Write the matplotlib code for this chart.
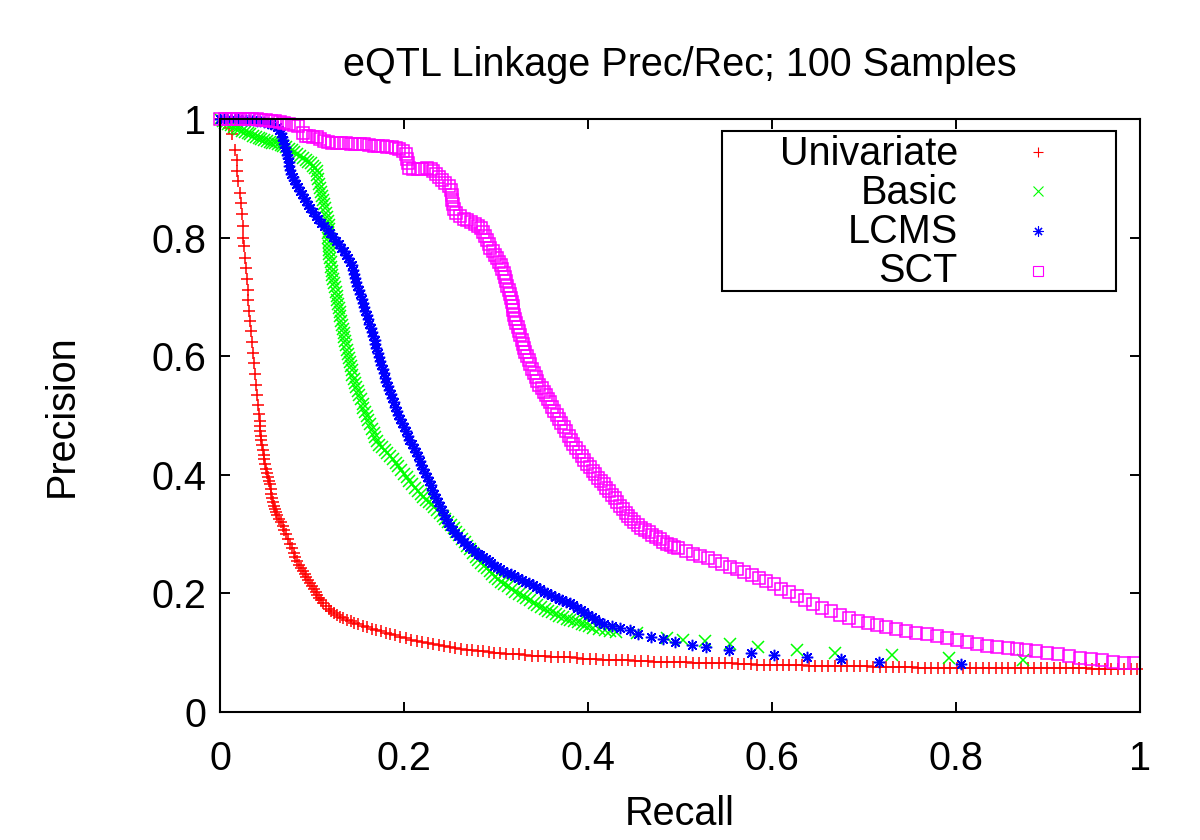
import matplotlib
matplotlib.use('Agg')
import matplotlib.pyplot as plt
from matplotlib.patches import Rectangle

plt.rcParams['font.family'] = ['Liberation Sans', 'DejaVu Sans']

# 数据: 从原图读取的 (recall, precision) 点
univariate_pts = [
    (0.000, 1.000), (0.005, 0.995), (0.010, 0.985), (0.013, 0.975), (0.016, 0.948),
    (0.018, 0.930), (0.019, 0.912), (0.020, 0.895), (0.022, 0.875), (0.023, 0.858),
    (0.024, 0.840), (0.025, 0.820), (0.025, 0.800), (0.026, 0.785), (0.027, 0.766),
    (0.028, 0.748), (0.029, 0.730), (0.030, 0.712), (0.031, 0.694), (0.032, 0.676),
    (0.033, 0.660), (0.034, 0.642), (0.035, 0.624), (0.036, 0.606), (0.037, 0.588),
    (0.038, 0.570), (0.039, 0.552), (0.040, 0.535), (0.041, 0.518), (0.042, 0.502),
    (0.043, 0.490), (0.043, 0.482),
    (0.044, 0.474), (0.045, 0.466), (0.045, 0.458), (0.046, 0.450), (0.047, 0.442),
    (0.048, 0.434), (0.048, 0.426), (0.049, 0.418), (0.050, 0.410), (0.051, 0.403),
    (0.052, 0.396), (0.053, 0.390), (0.054, 0.384), (0.055, 0.376), (0.056, 0.368),
    (0.057, 0.361), (0.058, 0.354), (0.059, 0.348), (0.060, 0.342), (0.061, 0.337),
    (0.062, 0.332), (0.064, 0.326), (0.066, 0.320), (0.068, 0.314), (0.070, 0.307),
    (0.072, 0.300), (0.074, 0.292), (0.076, 0.284), (0.078, 0.276), (0.080, 0.268),
    (0.082, 0.261), (0.084, 0.254), (0.086, 0.248), (0.088, 0.243), (0.090, 0.238),
    (0.092, 0.233), (0.094, 0.228), (0.096, 0.223), (0.098, 0.218), (0.100, 0.213),
    (0.102, 0.208), (0.104, 0.203), (0.106, 0.198), (0.108, 0.193), (0.110, 0.188),
    (0.112, 0.184), (0.115, 0.179), (0.118, 0.174), (0.121, 0.170), (0.124, 0.167),
    (0.127, 0.164), (0.130, 0.161), (0.134, 0.158), (0.138, 0.155), (0.142, 0.153),
    (0.146, 0.150), (0.150, 0.148), (0.155, 0.145), (0.160, 0.143), (0.165, 0.140),
    (0.170, 0.138), (0.175, 0.136), (0.180, 0.134), (0.185, 0.132), (0.190, 0.130),
    (0.196, 0.127), (0.202, 0.125), (0.208, 0.122), (0.214, 0.120), (0.220, 0.118),
    (0.226, 0.116), (0.232, 0.115), (0.238, 0.113), (0.244, 0.111), (0.250, 0.110),
    (0.256, 0.108), (0.262, 0.107), (0.268, 0.105), (0.274, 0.104), (0.280, 0.103),
    (0.286, 0.102), (0.292, 0.101), (0.298, 0.100), (0.304, 0.099), (0.311, 0.098),
    (0.318, 0.097), (0.325, 0.097), (0.332, 0.096), (0.339, 0.095), (0.346, 0.095),
    (0.353, 0.094), (0.360, 0.093), (0.367, 0.093), (0.374, 0.092), (0.381, 0.092),
    (0.388, 0.091), (0.395, 0.090), (0.402, 0.090), (0.409, 0.089), (0.416, 0.088),
    (0.423, 0.088), (0.430, 0.088), (0.437, 0.087), (0.444, 0.087), (0.451, 0.086),
    (0.458, 0.086), (0.465, 0.086), (0.472, 0.085), (0.479, 0.085), (0.486, 0.085),
    (0.493, 0.084), (0.500, 0.084), (0.507, 0.084), (0.514, 0.083), (0.521, 0.083),
    (0.528, 0.083), (0.535, 0.082), (0.542, 0.082), (0.549, 0.082), (0.556, 0.082),
    (0.563, 0.081), (0.570, 0.081), (0.577, 0.081), (0.584, 0.080), (0.591, 0.080),
    (0.598, 0.080), (0.605, 0.080), (0.612, 0.079), (0.619, 0.079), (0.626, 0.079),
    (0.633, 0.079), (0.640, 0.078), (0.647, 0.078), (0.654, 0.078), (0.661, 0.078),
    (0.668, 0.078), (0.675, 0.077), (0.682, 0.077), (0.689, 0.077), (0.696, 0.077),
    (0.703, 0.077), (0.710, 0.076), (0.717, 0.076), (0.724, 0.076), (0.731, 0.076),
    (0.738, 0.076), (0.745, 0.076), (0.752, 0.076), (0.759, 0.075), (0.766, 0.075),
    (0.773, 0.075), (0.780, 0.075), (0.787, 0.075), (0.794, 0.075), (0.801, 0.075),
    (0.808, 0.075), (0.815, 0.075), (0.822, 0.075), (0.829, 0.075), (0.836, 0.075),
    (0.843, 0.075), (0.850, 0.075), (0.857, 0.074), (0.864, 0.074), (0.871, 0.074),
    (0.878, 0.074), (0.885, 0.074), (0.892, 0.074), (0.899, 0.074), (0.906, 0.074),
    (0.913, 0.074), (0.920, 0.074), (0.927, 0.074), (0.934, 0.074), (0.941, 0.074),
    (0.948, 0.073), (0.955, 0.073), (0.962, 0.073), (0.969, 0.073), (0.976, 0.073),
    (0.983, 0.073), (0.990, 0.073), (0.997, 0.073),
]

basic_pts = [
    (0.000, 1.000), (0.003, 0.997), (0.006, 0.994), (0.009, 0.991), (0.012, 0.989),
    (0.015, 0.987), (0.018, 0.985), (0.021, 0.983), (0.024, 0.980), (0.027, 0.978),
    (0.030, 0.976), (0.033, 0.974), (0.036, 0.971), (0.039, 0.969), (0.042, 0.968),
    (0.045, 0.966), (0.048, 0.964), (0.051, 0.963), (0.054, 0.961), (0.057, 0.960),
    (0.060, 0.959), (0.063, 0.957), (0.066, 0.956), (0.069, 0.955), (0.072, 0.953),
    (0.075, 0.950), (0.078, 0.947), (0.081, 0.944), (0.084, 0.941), (0.087, 0.937),
    (0.090, 0.934), (0.093, 0.931), (0.096, 0.928), (0.099, 0.925), (0.101, 0.921),
    (0.103, 0.917), (0.105, 0.912), (0.106, 0.905), (0.107, 0.898), (0.108, 0.891),
    (0.109, 0.884), (0.110, 0.877), (0.111, 0.870), (0.112, 0.863), (0.113, 0.856),
    (0.114, 0.849), (0.115, 0.842), (0.116, 0.835), (0.117, 0.828), (0.118, 0.821),
    (0.118, 0.814), (0.117, 0.807), (0.117, 0.800), (0.118, 0.793), (0.118, 0.786),
    (0.119, 0.779), (0.119, 0.772), (0.120, 0.765), (0.121, 0.758), (0.121, 0.751),
    (0.122, 0.744), (0.122, 0.737), (0.123, 0.730), (0.124, 0.723), (0.125, 0.716),
    (0.126, 0.709), (0.127, 0.702), (0.127, 0.695), (0.128, 0.688), (0.129, 0.681),
    (0.130, 0.674), (0.131, 0.667), (0.132, 0.660), (0.133, 0.653), (0.134, 0.646),
    (0.135, 0.639), (0.135, 0.632), (0.136, 0.625), (0.137, 0.618), (0.138, 0.611),
    (0.139, 0.604), (0.140, 0.597), (0.141, 0.590), (0.142, 0.583), (0.143, 0.576),
    (0.144, 0.569), (0.146, 0.562), (0.147, 0.555), (0.148, 0.548), (0.150, 0.541),
    (0.151, 0.534), (0.153, 0.527), (0.155, 0.520), (0.156, 0.513), (0.158, 0.506),
    (0.160, 0.499), (0.161, 0.492), (0.163, 0.485), (0.165, 0.478), (0.167, 0.471),
    (0.169, 0.464), (0.171, 0.457), (0.173, 0.451), (0.176, 0.446), (0.179, 0.441),
    (0.182, 0.436), (0.185, 0.431), (0.188, 0.426), (0.191, 0.420), (0.194, 0.414),
    (0.197, 0.408), (0.200, 0.402), (0.203, 0.396), (0.206, 0.390), (0.209, 0.384),
    (0.212, 0.378), (0.215, 0.373), (0.218, 0.368), (0.221, 0.363), (0.224, 0.358),
    (0.227, 0.354), (0.230, 0.350), (0.233, 0.345), (0.236, 0.340), (0.239, 0.335),
    (0.242, 0.330), (0.245, 0.325), (0.248, 0.320), (0.251, 0.315), (0.254, 0.310),
    (0.257, 0.304), (0.260, 0.298), (0.263, 0.292), (0.266, 0.286), (0.269, 0.280),
    (0.272, 0.274), (0.275, 0.268), (0.278, 0.262), (0.281, 0.257), (0.284, 0.252),
    (0.287, 0.247), (0.290, 0.242), (0.293, 0.237), (0.296, 0.232), (0.299, 0.228),
    (0.302, 0.224), (0.305, 0.220), (0.309, 0.216), (0.313, 0.212), (0.317, 0.207),
    (0.321, 0.203), (0.325, 0.199), (0.329, 0.196), (0.333, 0.192), (0.337, 0.188),
    (0.341, 0.184), (0.345, 0.180), (0.349, 0.177), (0.353, 0.174), (0.357, 0.171),
    (0.361, 0.168), (0.365, 0.165), (0.369, 0.162), (0.373, 0.160), (0.377, 0.157),
    (0.381, 0.155), (0.385, 0.153), (0.389, 0.151), (0.393, 0.149), (0.397, 0.147),
    (0.401, 0.145), (0.406, 0.142), (0.412, 0.140), (0.418, 0.138), (0.424, 0.136),
    (0.431, 0.135), (0.453, 0.134), (0.486, 0.125), (0.503, 0.121), (0.527, 0.120),
    (0.554, 0.114), (0.585, 0.110), (0.627, 0.105), (0.669, 0.100), (0.730, 0.096),
    (0.792, 0.091), (0.873, 0.088),
]

lcms_pts = [
    (0.000, 1.000), (0.004, 1.000), (0.008, 1.000), (0.012, 1.000), (0.016, 1.000),
    (0.020, 1.000), (0.024, 0.999), (0.028, 0.999), (0.032, 0.998), (0.036, 0.998),
    (0.040, 0.997), (0.044, 0.996), (0.048, 0.995), (0.052, 0.993), (0.056, 0.991),
    (0.059, 0.989), (0.062, 0.986), (0.064, 0.981), (0.066, 0.976), (0.067, 0.970),
    (0.069, 0.964), (0.070, 0.958), (0.071, 0.952), (0.072, 0.946), (0.073, 0.940),
    (0.074, 0.934), (0.075, 0.927), (0.075, 0.920), (0.076, 0.914), (0.077, 0.908),
    (0.079, 0.902), (0.081, 0.897), (0.083, 0.891), (0.085, 0.885), (0.087, 0.879),
    (0.089, 0.873), (0.091, 0.867), (0.093, 0.861), (0.096, 0.855), (0.098, 0.849),
    (0.101, 0.843), (0.104, 0.837), (0.107, 0.831), (0.110, 0.825), (0.113, 0.819),
    (0.117, 0.813), (0.120, 0.807), (0.123, 0.801), (0.126, 0.795), (0.129, 0.789),
    (0.132, 0.783), (0.135, 0.777), (0.137, 0.771), (0.139, 0.765), (0.141, 0.759),
    (0.143, 0.753), (0.145, 0.746), (0.146, 0.739), (0.147, 0.732), (0.148, 0.725),
    (0.149, 0.718), (0.151, 0.711), (0.152, 0.704), (0.154, 0.697), (0.155, 0.690),
    (0.157, 0.683), (0.158, 0.676), (0.160, 0.669), (0.161, 0.662), (0.162, 0.655),
    (0.164, 0.648), (0.165, 0.641), (0.166, 0.634), (0.168, 0.627), (0.169, 0.620),
    (0.170, 0.613), (0.172, 0.606), (0.173, 0.599), (0.174, 0.592), (0.175, 0.585),
    (0.177, 0.578), (0.178, 0.571), (0.179, 0.564), (0.181, 0.557), (0.183, 0.550),
    (0.184, 0.543), (0.186, 0.536), (0.187, 0.529), (0.189, 0.522), (0.190, 0.515),
    (0.192, 0.508), (0.194, 0.501), (0.196, 0.494), (0.198, 0.487), (0.200, 0.480),
    (0.202, 0.473), (0.204, 0.466), (0.206, 0.459), (0.209, 0.452), (0.211, 0.445),
    (0.213, 0.438), (0.215, 0.431), (0.217, 0.424), (0.219, 0.417), (0.221, 0.410),
    (0.223, 0.403), (0.225, 0.396), (0.227, 0.389), (0.229, 0.382), (0.231, 0.375),
    (0.233, 0.368), (0.235, 0.361), (0.237, 0.354), (0.239, 0.347), (0.241, 0.340),
    (0.243, 0.333), (0.246, 0.326), (0.248, 0.319), (0.250, 0.313), (0.253, 0.307),
    (0.256, 0.301), (0.259, 0.296), (0.262, 0.291), (0.265, 0.286), (0.268, 0.282),
    (0.271, 0.278), (0.274, 0.274), (0.277, 0.270), (0.280, 0.267), (0.283, 0.264),
    (0.286, 0.261), (0.289, 0.258), (0.292, 0.254), (0.295, 0.251), (0.298, 0.247),
    (0.301, 0.244), (0.304, 0.241), (0.308, 0.238), (0.312, 0.235), (0.316, 0.232),
    (0.320, 0.229), (0.324, 0.226), (0.328, 0.223), (0.332, 0.220), (0.336, 0.217),
    (0.340, 0.214), (0.344, 0.210), (0.348, 0.207), (0.352, 0.203), (0.356, 0.200),
    (0.360, 0.197), (0.364, 0.194), (0.368, 0.191), (0.372, 0.189), (0.376, 0.186),
    (0.380, 0.183), (0.384, 0.180), (0.388, 0.176), (0.392, 0.172), (0.396, 0.168),
    (0.400, 0.164), (0.404, 0.160), (0.408, 0.156), (0.412, 0.152), (0.417, 0.148),
    (0.426, 0.145), (0.435, 0.142), (0.446, 0.138), (0.454, 0.131), (0.469, 0.127),
    (0.482, 0.123), (0.495, 0.118), (0.513, 0.113), (0.528, 0.110), (0.553, 0.105),
    (0.577, 0.100), (0.602, 0.096), (0.638, 0.093), (0.675, 0.089), (0.716, 0.084),
    (0.805, 0.081),
]

sct_pts = [
    (0.000, 1.000), (0.005, 1.000), (0.010, 1.000), (0.015, 1.000), (0.020, 1.000),
    (0.025, 1.000), (0.030, 1.000), (0.035, 1.000), (0.040, 1.000), (0.045, 0.999),
    (0.050, 0.998), (0.055, 0.997), (0.060, 0.996), (0.065, 0.995), (0.070, 0.994),
    (0.075, 0.992), (0.080, 0.990), (0.085, 0.988), (0.090, 0.977), (0.093, 0.972),
    (0.097, 0.971), (0.101, 0.970), (0.105, 0.969), (0.109, 0.967), (0.113, 0.963),
    (0.117, 0.961), (0.122, 0.960), (0.127, 0.960), (0.132, 0.959), (0.137, 0.959),
    (0.142, 0.958), (0.147, 0.958), (0.152, 0.957), (0.157, 0.957), (0.162, 0.956),
    (0.167, 0.955), (0.172, 0.954), (0.177, 0.954), (0.182, 0.953), (0.187, 0.952),
    (0.191, 0.951), (0.195, 0.949), (0.199, 0.946), (0.202, 0.941), (0.203, 0.933),
    (0.204, 0.925), (0.206, 0.918), (0.210, 0.915), (0.215, 0.915), (0.220, 0.916),
    (0.225, 0.917), (0.229, 0.916), (0.232, 0.912), (0.235, 0.907), (0.238, 0.902),
    (0.241, 0.897), (0.245, 0.892), (0.249, 0.887), (0.251, 0.880), (0.252, 0.872),
    (0.252, 0.864), (0.253, 0.856), (0.254, 0.848), (0.257, 0.841), (0.261, 0.836),
    (0.265, 0.832), (0.269, 0.829), (0.273, 0.826), (0.277, 0.823), (0.281, 0.820),
    (0.284, 0.816), (0.286, 0.810), (0.288, 0.803), (0.290, 0.796), (0.292, 0.789),
    (0.294, 0.783), (0.297, 0.777), (0.299, 0.771), (0.301, 0.765), (0.303, 0.759),
    (0.305, 0.753), (0.307, 0.747), (0.309, 0.740), (0.310, 0.733), (0.311, 0.726),
    (0.312, 0.719), (0.314, 0.712), (0.315, 0.705), (0.316, 0.698), (0.317, 0.691),
    (0.318, 0.684), (0.319, 0.677), (0.320, 0.670), (0.321, 0.663), (0.322, 0.656),
    (0.324, 0.649), (0.325, 0.642), (0.326, 0.635), (0.328, 0.628), (0.329, 0.621),
    (0.331, 0.614), (0.332, 0.607), (0.334, 0.600), (0.336, 0.593), (0.337, 0.586),
    (0.339, 0.579), (0.341, 0.572), (0.343, 0.565), (0.345, 0.558), (0.347, 0.552),
    (0.350, 0.546), (0.352, 0.540), (0.354, 0.534), (0.357, 0.528), (0.359, 0.522),
    (0.361, 0.515), (0.363, 0.508), (0.366, 0.501), (0.368, 0.494), (0.371, 0.487),
    (0.374, 0.480), (0.376, 0.473), (0.379, 0.466), (0.382, 0.459), (0.384, 0.452),
    (0.387, 0.445), (0.390, 0.438), (0.393, 0.431), (0.396, 0.425), (0.399, 0.419),
    (0.402, 0.413), (0.405, 0.407), (0.408, 0.401), (0.411, 0.395), (0.414, 0.389),
    (0.417, 0.384), (0.420, 0.378), (0.423, 0.372), (0.426, 0.366), (0.429, 0.360),
    (0.432, 0.354), (0.435, 0.348), (0.438, 0.342), (0.441, 0.336), (0.444, 0.330),
    (0.447, 0.325), (0.450, 0.320), (0.454, 0.315), (0.458, 0.311), (0.462, 0.307),
    (0.466, 0.303), (0.470, 0.299), (0.474, 0.295), (0.478, 0.291), (0.482, 0.287),
    (0.486, 0.284), (0.490, 0.281), (0.494, 0.278), (0.498, 0.276), (0.506, 0.271),
    (0.514, 0.267), (0.522, 0.263), (0.530, 0.259), (0.538, 0.255), (0.546, 0.250),
    (0.554, 0.245), (0.562, 0.241), (0.570, 0.236), (0.578, 0.231), (0.586, 0.226),
    (0.594, 0.221), (0.602, 0.215), (0.610, 0.208), (0.618, 0.202), (0.627, 0.195),
    (0.636, 0.188), (0.645, 0.182), (0.654, 0.176), (0.664, 0.170), (0.674, 0.164),
    (0.684, 0.159), (0.694, 0.154), (0.704, 0.150), (0.714, 0.147), (0.724, 0.144),
    (0.735, 0.140), (0.746, 0.137), (0.757, 0.134), (0.768, 0.131), (0.779, 0.128),
    (0.790, 0.125), (0.801, 0.121), (0.812, 0.118), (0.823, 0.114), (0.834, 0.111),
    (0.845, 0.110), (0.856, 0.108), (0.866, 0.107), (0.876, 0.105), (0.887, 0.102),
    (0.899, 0.100), (0.911, 0.097), (0.923, 0.094), (0.935, 0.091), (0.947, 0.089),
    (0.959, 0.087), (0.971, 0.085), (0.983, 0.083), (0.993, 0.082),
]

labels = ['Univariate', 'Basic', 'LCMS', 'SCT']
series = [univariate_pts, basic_pts, lcms_pts, sct_pts]
colors = ['#ff0000', '#00ff00', '#0000ff', '#ff00ff']
markers = ['+', 'x', (8, 2, 0), 's']

tick_vals = [0, 0.2, 0.4, 0.6, 0.8, 1]
tick_labels = ['0', '0.2', '0.4', '0.6', '0.8', '1']

FS = 28.5
MS = 8.2
MEW = 1.1

fig = plt.figure(figsize=(12, 8.4), dpi=100)
ax = fig.add_axes([0.1833, 0.1524, 0.7667, 0.7060])

for pts, c, m in zip(series, colors, markers):
    x = [p[0] for p in pts]
    y = [p[1] for p in pts]
    ax.plot(x, y, ls='none', marker=m, ms=MS, mew=MEW, mfc='none', mec=c,
            clip_on=False)

ax.set_xlim(0, 1)
ax.set_ylim(0, 1)
ax.set_xticks(tick_vals)
ax.set_xticklabels(tick_labels)
ax.set_yticks(tick_vals)
ax.set_yticklabels(tick_labels)
ax.tick_params(direction='in', length=7, width=1.4, top=True, right=True,
               labelsize=FS)
ax.tick_params(axis='x', pad=20)
ax.tick_params(axis='y', pad=10)
for s in ax.spines.values():
    s.set_linewidth(1.5)

ax.set_title('eQTL Linkage Prec/Rec; 100 Samples', fontsize=FS, pad=31)
ax.set_xlabel('Recall', fontsize=FS)
ax.set_ylabel('Precision', fontsize=FS)
ax.xaxis.set_label_coords(0.5, -0.14)
ax.yaxis.set_label_coords(-0.151, 0.5)

# 图例 (gnuplot风格: 文字右对齐, 标记在右)
ax.add_patch(Rectangle((0.5453, 0.7105), 0.4287, 0.2698, transform=ax.transAxes,
                       fill=False, lw=1.5, ec='black', clip_on=False))
text_y = [0.9224, 0.8567, 0.7909, 0.7251]
mark_y = [0.9444, 0.8786, 0.8111, 0.7437]
for lab, c, m, ty, my in zip(labels, colors, markers, text_y, mark_y):
    ax.text(0.802, ty, lab, transform=ax.transAxes, ha='right', va='baseline',
            fontsize=FS)
    ax.plot([0.889], [my], transform=ax.transAxes, ls='none', marker=m, ms=7.2,
            mew=0.8, mfc='none', mec=c, clip_on=False)

fig.savefig('out.png', dpi=100)
